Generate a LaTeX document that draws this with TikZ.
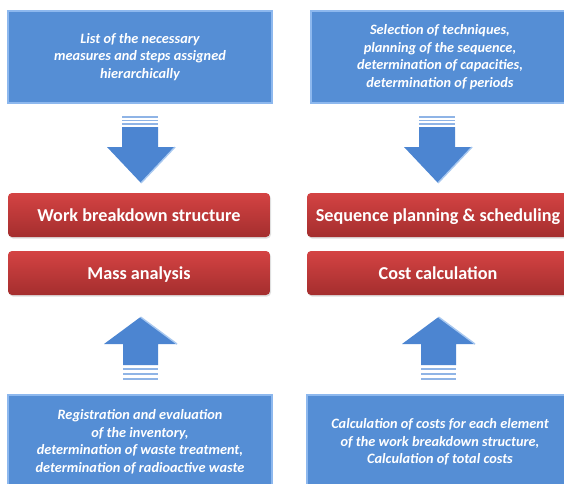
\documentclass[tikz,border=0pt]{standalone}
\usepackage{fontspec}
\setmainfont{Carlito}
\usetikzlibrary{shadows}
\definecolor{boxblue}{HTML}{558ED5}
\definecolor{boxedge}{HTML}{8DB8EE}
\definecolor{redtop}{HTML}{D44343}
\definecolor{redbot}{HTML}{A42E2E}
\definecolor{arrowblue}{HTML}{4C85D1}
\definecolor{arrowlight}{HTML}{A8C8F0}
\definecolor{stripeblue}{HTML}{8FB4E6}
\tikzset{
 infobox/.style={rectangle, fill=boxblue, draw=boxedge, line width=1.2pt, text=white,
   font=\bfseries\itshape\fontsize{14.3}{17.5}\selectfont, align=center, inner sep=0pt},
 taskbox/.style={rectangle, rounded corners=4pt, top color=redtop, bottom color=redbot,
   text=white, font=\bfseries\fontsize{18.2}{20}\selectfont, inner sep=0pt,
   minimum height=44pt, text height=16pt, text depth=3pt,
   drop shadow={opacity=0.25, shadow xshift=1pt, shadow yshift=-1.5pt}},
 arrowbody/.style={fill=arrowblue},
 arrowedge/.style={draw=arrowlight, line width=1.4pt},
 stripe/.style={fill=stripeblue}
}
\newcommand{\downarrowshape}{%
  \fill[stripe] (-18,115.5) rectangle (18,117.5);
  \fill[stripe] (-18,119.5) rectangle (18,121.2);
  \fill[stripe] (-18,123) rectangle (18,125);
  \fill[arrowbody] (-18,127) -- (18,127) -- (18,147) -- (35,147) -- (1,183) -- (-33,147) -- (-18,147) -- cycle;
  \draw[arrowedge] (35,147) -- (1,183);
}
\newcommand{\uparrowshape}{%
  \fill[arrowbody] (0.5,317) -- (37,344) -- (18,344) -- (18,365) -- (-17,365) -- (-17,344) -- (-36,344) -- cycle;
  \draw[arrowedge] (0.5,317) -- (37,344);
  \fill[stripe] (-17,367.5) rectangle (18,369.5);
  \fill[stripe] (-17,372.5) rectangle (18,374.5);
  \fill[stripe] (-17,377.5) rectangle (18,379.5);
}
\begin{document}
\begin{tikzpicture}[x=1pt,y=-1pt]
\clip (0,0) rectangle (564,483);
\fill[white] (0,0) rectangle (564,483);
% top info boxes
\node[infobox, minimum width=264pt, minimum height=92pt] (listbox) at (140,57)
  {List of the necessary\\measures and steps assigned\\hierarchically};
\node[infobox, minimum width=258pt, minimum height=92pt] (selbox) at (440,57)
  {Selection of techniques,\\planning of the sequence,\\determination of capacities,\\determination of periods};
% red task boxes
\node[taskbox, minimum width=262pt] (wbs) at (139,215) {Work breakdown structure};
\node[taskbox, minimum width=262pt] (mass) at (139,273) {Mass analysis};
\node[taskbox, minimum width=262pt] (seq) at (438,215) {Sequence planning \& scheduling};
\node[taskbox, minimum width=262pt] (cost) at (438,273) {Cost calculation};
% bottom info boxes
\node[infobox, minimum width=264pt, minimum height=94pt] (regbox) at (140,442)
  {Registration and evaluation\\of the inventory,\\determination of waste treatment,\\determination of radioactive waste};
\node[infobox, minimum width=266pt, minimum height=94pt] (calcbox) at (440,442)
  {Calculation of costs for each element\\of the work breakdown structure,\\Calculation of total costs};
% arrows
\begin{scope}[shift={(140,0)}]\downarrowshape\end{scope}
\begin{scope}[shift={(437,0)}]\downarrowshape\end{scope}
\begin{scope}[shift={(140,0)}]\uparrowshape\end{scope}
\begin{scope}[shift={(438,0)}]\uparrowshape\end{scope}
\end{tikzpicture}
\end{document}
